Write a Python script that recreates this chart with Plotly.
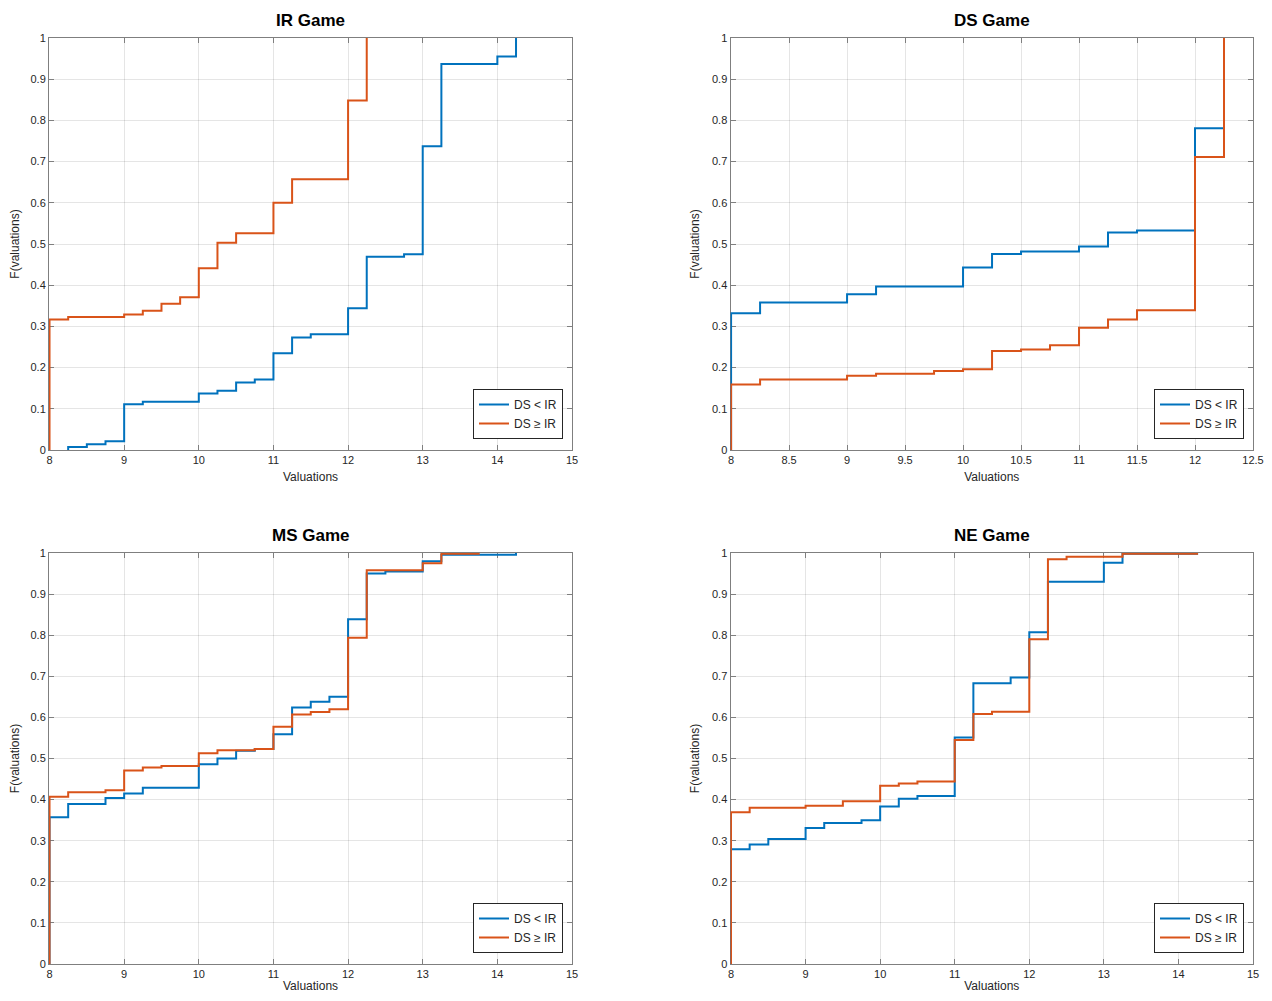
import plotly.graph_objects as go

# ---------------- data ----------------
IR_blue_x = [8.25, 8.25, 8.5, 8.75, 9, 9.25, 10, 10.25, 10.5, 10.75, 11, 11.25, 11.5, 12, 12.25, 12.75, 13, 13.25, 14, 14.25]
IR_blue_y = [0, 0.007, 0.014, 0.021, 0.111, 0.117, 0.137, 0.144, 0.164, 0.171, 0.235, 0.273, 0.281, 0.344, 0.469, 0.475, 0.737, 0.937, 0.955, 1.0]
IR_orange_x = [8, 8, 8.25, 9, 9.25, 9.5, 9.75, 10, 10.25, 10.5, 11, 11.25, 12, 12.25]
IR_orange_y = [0, 0.317, 0.323, 0.329, 0.338, 0.355, 0.371, 0.441, 0.503, 0.526, 0.600, 0.657, 0.848, 1.0]

DS_blue_x = [8, 8, 8.25, 9, 9.25, 10, 10.25, 10.5, 11, 11.25, 11.5, 12, 12.25]
DS_blue_y = [0, 0.332, 0.358, 0.378, 0.397, 0.443, 0.476, 0.482, 0.494, 0.528, 0.533, 0.781, 1.0]
DS_orange_x = [8, 8, 8.25, 9, 9.25, 9.75, 10, 10.25, 10.5, 10.75, 11, 11.25, 11.5, 12, 12.25]
DS_orange_y = [0, 0.159, 0.171, 0.180, 0.185, 0.192, 0.196, 0.240, 0.244, 0.254, 0.297, 0.317, 0.339, 0.711, 1.0]

MS_blue_x = [8, 8, 8.25, 8.75, 9, 9.25, 10, 10.25, 10.5, 10.75, 11, 11.25, 11.5, 11.75, 12, 12.25, 12.5, 13, 13.25, 14.25]
MS_blue_y = [0, 0.357, 0.389, 0.404, 0.415, 0.429, 0.486, 0.500, 0.519, 0.523, 0.559, 0.624, 0.638, 0.650, 0.839, 0.950, 0.955, 0.980, 0.996, 1.0]
MS_orange_x = [8, 8, 8.25, 8.75, 9, 9.25, 9.5, 10, 10.25, 10.75, 11, 11.25, 11.5, 11.75, 12, 12.25, 13, 13.25, 13.75]
MS_orange_y = [0, 0.407, 0.418, 0.423, 0.471, 0.478, 0.482, 0.513, 0.520, 0.523, 0.577, 0.607, 0.613, 0.620, 0.794, 0.958, 0.975, 0.998, 1.0]

NE_blue_x = [8, 8, 8.25, 8.5, 9, 9.25, 9.75, 10, 10.25, 10.5, 11, 11.25, 11.75, 12, 12.25, 13, 13.25, 14.25]
NE_blue_y = [0, 0.279, 0.291, 0.304, 0.331, 0.343, 0.350, 0.383, 0.402, 0.409, 0.551, 0.683, 0.697, 0.807, 0.930, 0.976, 0.998, 1.0]
NE_orange_x = [8, 8, 8.25, 9, 9.5, 10, 10.25, 10.5, 11, 11.25, 11.5, 12, 12.25, 12.5, 13.25, 14.25]
NE_orange_y = [0, 0.369, 0.380, 0.385, 0.396, 0.434, 0.439, 0.444, 0.545, 0.608, 0.614, 0.790, 0.985, 0.991, 0.998, 1.0]

titles = ["IR Game", "DS Game", "MS Game", "NE Game"]
series_names = ["DS < IR", "DS \u2265 IR"]
x_ranges = [[7.993, 15], [7.995, 12.5], [7.993, 15], [7.993, 15]]
x_dticks = [1, 0.5, 1, 1]
y_range = [0, 1]
y_dtick = 0.1

BLUE = "#0072BD"
ORANGE = "#D95319"
FONT = "Liberation Sans, Arial, Helvetica, sans-serif"

# ---------------- layout geometry ----------------
OFF = 8  # page body margin in the browser
W, H = 1272 - 2 * OFF, 1001 - 2 * OFF
ML, MR, MT, MB = 30, 5, 22, 22
PW, PH = W - ML - MR, H - MT - MB


def fx(px):
    return (px - OFF - ML) / PW


def fy(py):
    return (H - MB - (py - OFF)) / PH


panels_px = [  # left, right, top, bottom in page pixels
    (49, 572, 38, 450),
    (730.5, 1253, 38, 450),
    (49, 572, 553, 964),
    (730.5, 1253, 553, 964),
]

data = [
    (IR_blue_x, IR_blue_y, IR_orange_x, IR_orange_y),
    (DS_blue_x, DS_blue_y, DS_orange_x, DS_orange_y),
    (MS_blue_x, MS_blue_y, MS_orange_x, MS_orange_y),
    (NE_blue_x, NE_blue_y, NE_orange_x, NE_orange_y),
]

fig = go.Figure()
layout = dict(
    width=W, height=H,
    margin=dict(l=ML, r=MR, t=MT, b=MB),
    paper_bgcolor="white", plot_bgcolor="white",
    font=dict(family=FONT, size=11, color="#262626"),
    annotations=[],
)

for i, (bx, by, ox, oy) in enumerate(data):
    n = i + 1
    xa = "x" if n == 1 else f"x{n}"
    ya = "y" if n == 1 else f"y{n}"
    lg = "legend" if n == 1 else f"legend{n}"
    fig.add_trace(go.Scatter(x=bx, y=by, mode="lines", line=dict(color=BLUE, width=2, shape="hv"),
                             name=series_names[0], xaxis=xa, yaxis=ya, legend=lg))
    fig.add_trace(go.Scatter(x=ox, y=oy, mode="lines", line=dict(color=ORANGE, width=2, shape="hv"),
                             name=series_names[1], xaxis=xa, yaxis=ya, legend=lg))

    l, r, t, b = panels_px[i]
    axis_common = dict(
        showgrid=True, gridcolor="rgba(0,0,0,0.10)", gridwidth=1,
        zeroline=False, showline=True, linecolor="#7f7f7f", linewidth=1,
        mirror="ticks", ticks="inside", ticklen=5, tickcolor="#7f7f7f",
        tickfont=dict(family=FONT, size=11, color="#262626"),
        automargin=False, layer="below traces",
    )
    layout["xaxis" if n == 1 else f"xaxis{n}"] = dict(
        axis_common, domain=[fx(l), fx(r)], range=x_ranges[i], dtick=x_dticks[i], tick0=8,
        anchor=ya, title=dict(text="Valuations", font=dict(size=12, color="#262626"), standoff=7),
    )
    layout["yaxis" if n == 1 else f"yaxis{n}"] = dict(
        axis_common, domain=[fy(b), fy(t)], range=y_range, dtick=y_dtick, tick0=0,
        anchor=xa, title=dict(text="F(valuations)", font=dict(size=12, color="#262626"), standoff=9),
    )
    layout[lg] = dict(
        x=fx(r - 9), y=fy(b - 11), xanchor="right", yanchor="bottom",
        bgcolor="white", bordercolor="#262626", borderwidth=1,
        font=dict(family=FONT, size=12, color="#262626"),
        tracegroupgap=0, itemwidth=30,
    )
    layout["annotations"].append(dict(
        text=f"<b>{titles[i]}</b>", xref="paper", yref="paper",
        x=(fx(l) + fx(r)) / 2, y=fy(t - 18), xanchor="center", yanchor="middle",
        showarrow=False, font=dict(family=FONT, size=17, color="black"),
    ))

fig.update_layout(**layout)
fig.write_html("out.html")
